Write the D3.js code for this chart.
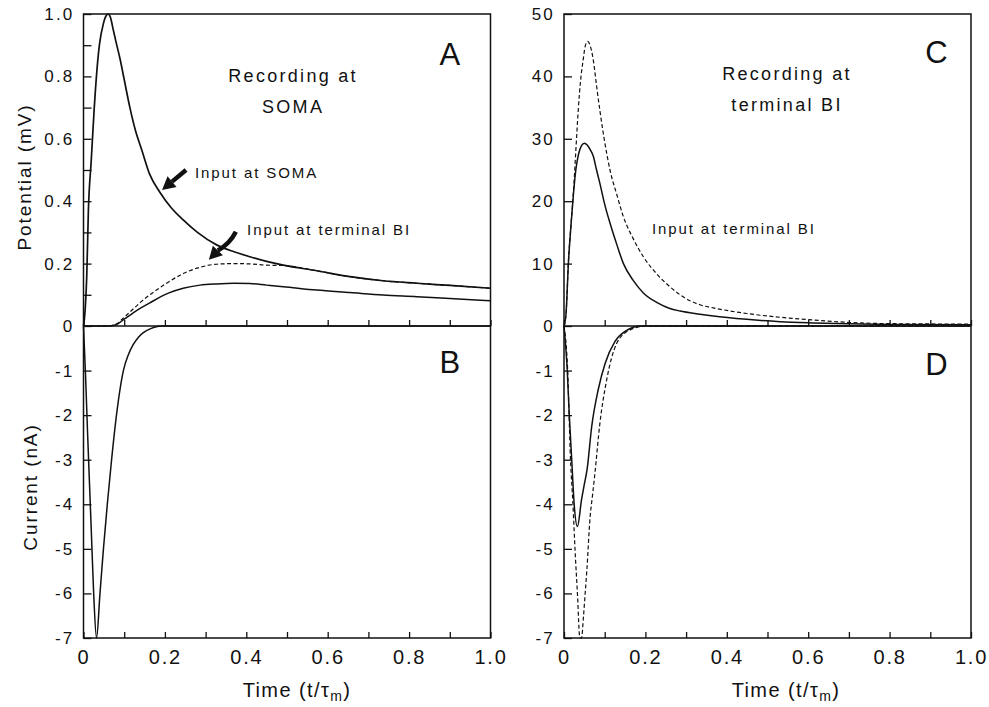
<!DOCTYPE html>
<html><head><meta charset="utf-8">
<script src="https://cdn.jsdelivr.net/npm/d3@7"></script>
<style>
body{margin:0;background:#fff}
text{font-family:"Liberation Sans",Arial,Helvetica,sans-serif;fill:#111}
</style>
</head><body><svg id="c" width="989" height="707"></svg>
<script>
// ---------- DATA ----------
const timeTicks = [0, 0.2, 0.4, 0.6, 0.8, 1.0];
const timeTickLabels = ["0", "0.2", "0.4", "0.6", "0.8", "1.0"];
const timeMinorTicks = [0.1, 0.3, 0.5, 0.7, 0.9];
const potTicksA = [0, 0.2, 0.4, 0.6, 0.8, 1.0];
const potTickLabelsA = ["0", "0.2", "0.4", "0.6", "0.8", "1.0"];
const potMinorTicksA = [0.1, 0.3, 0.5, 0.7, 0.9];
const potTicksC = [0, 10, 20, 30, 40, 50];
const potTickLabelsC = ["0", "10", "20", "30", "40", "50"];
const curTicks = [-1, -2, -3, -4, -5, -6, -7];
const curTickLabels = ["-1", "-2", "-3", "-4", "-5", "-6", "-7"];

// Panel A: recording at soma
const somaRec_somaInput = [[0,0],[0.004,0.05],[0.008,0.16],[0.012,0.37],[0.019,0.53],[0.026,0.69],[0.033,0.82],[0.039,0.9],[0.049,0.97],[0.056,0.995],[0.061,1.0],[0.066,0.99],[0.073,0.95],[0.08,0.91],[0.09,0.855],[0.1,0.79],[0.114,0.70],[0.128,0.625],[0.143,0.565],[0.163,0.485],[0.188,0.428],[0.215,0.38],[0.245,0.34],[0.28,0.3],[0.327,0.26],[0.37,0.238],[0.409,0.222],[0.45,0.207],[0.491,0.195],[0.573,0.177],[0.655,0.158],[0.736,0.145],[0.819,0.137],[0.9,0.13],[1.0,0.121]];
const somaRec_termInputDashed = [[0,0],[0.06,0],[0.08,0.006],[0.1,0.028],[0.12,0.052],[0.14,0.076],[0.163,0.1],[0.19,0.125],[0.21,0.142],[0.245,0.168],[0.286,0.188],[0.327,0.198],[0.37,0.2],[0.409,0.199],[0.45,0.195],[0.491,0.194],[0.573,0.177],[0.655,0.158],[0.736,0.145],[0.819,0.137],[0.9,0.13],[1.0,0.121]];
const somaRec_termInputSolid = [[0,0],[0.06,0],[0.08,0.004],[0.1,0.022],[0.12,0.04],[0.14,0.057],[0.163,0.074],[0.19,0.094],[0.21,0.106],[0.245,0.121],[0.286,0.131],[0.327,0.135],[0.37,0.137],[0.409,0.136],[0.45,0.131],[0.491,0.126],[0.573,0.115],[0.655,0.107],[0.736,0.099],[0.819,0.094],[0.9,0.088],[1.0,0.081]];

// Panel B: current, input at soma
const somaCurrent = [[0,0],[0.005,-1.1],[0.01,-2.4],[0.015,-3.6],[0.02,-4.8],[0.025,-6],[0.032,-7],[0.0405,-6],[0.049,-5],[0.0585,-4],[0.069,-3],[0.081,-2],[0.098,-1],[0.11,-0.65],[0.122,-0.42],[0.135,-0.25],[0.147,-0.15],[0.165,-0.06],[0.19,0],[1.0,0]];

// Panel C: recording at terminal BI
const termRec_dashed = [[0,0],[0.005,2],[0.011,10.5],[0.017,16],[0.023,21.3],[0.029,28],[0.035,34.6],[0.041,39.5],[0.047,42.6],[0.052,44.8],[0.058,45.6],[0.064,45],[0.072,42.6],[0.08,38.5],[0.088,34.6],[0.1,29.5],[0.113,25],[0.13,21],[0.146,17.5],[0.17,14],[0.195,11.1],[0.23,8.2],[0.26,6.3],[0.285,5.0],[0.334,3.4],[0.367,2.9],[0.449,2.0],[0.531,1.4],[0.612,0.96],[0.694,0.6],[0.776,0.4],[0.85,0.35],[1.0,0.3]];
const termRec_solid = [[0,0],[0.005,2],[0.011,10.3],[0.017,16],[0.023,21],[0.029,25],[0.036,27.6],[0.043,28.9],[0.05,29.3],[0.057,29],[0.065,28.2],[0.072,27.2],[0.08,25],[0.088,22.9],[0.1,19.5],[0.113,16.5],[0.13,13],[0.146,10],[0.17,7.3],[0.195,5.3],[0.23,3.7],[0.26,2.8],[0.285,2.4],[0.334,1.9],[0.367,1.6],[0.449,1.07],[0.531,0.7],[0.612,0.5],[0.7,0.35],[0.8,0.25],[1.0,0.2]];

// Panel D: current
const termCurrent_solid = [[0,0],[0.008,-1],[0.013,-2],[0.019,-3],[0.025,-4],[0.033,-4.5],[0.043,-3.9],[0.05,-3.55],[0.057,-3.2],[0.068,-2.26],[0.084,-1.43],[0.101,-0.84],[0.125,-0.35],[0.15,-0.12],[0.19,0],[1.0,0]];
const termCurrent_dashed = [[0,0],[0.009,-1],[0.016,-3],[0.022,-4],[0.027,-5],[0.033,-6],[0.039,-7],[0.043,-7],[0.048,-6.5],[0.052,-6],[0.056,-5.5],[0.064,-4.3],[0.07,-3.8],[0.076,-3.3],[0.088,-2.2],[0.105,-1.2],[0.129,-0.4],[0.16,-0.1],[0.2,0],[1.0,0]];

// ---------- DRAW ----------
const svg = d3.select("#c");
const Y_TOP = 14, Y_ZERO = 326, Y_BOT = 638;
const cols = [{x0: 83.5, x1: 490.5}, {x0: 564, x1: 971}];
const FONT = '"Liberation Sans",Arial,sans-serif';

const xScales = cols.map(c => d3.scaleLinear().domain([0, 1]).range([c.x0, c.x1]));
const yA = d3.scaleLinear().domain([0, 1]).range([Y_ZERO, Y_TOP]);
const yC = d3.scaleLinear().domain([0, 50]).range([Y_ZERO, Y_TOP]);
const yCur = d3.scaleLinear().domain([-7, 0]).range([Y_BOT, Y_ZERO]);

function drawLine(x, y, data, dashed, w) {
  svg.append("path").datum(data)
    .attr("fill", "none").attr("stroke", "#111")
    .attr("stroke-width", w || (dashed ? 1.2 : 1.5))
    .attr("stroke-dasharray", dashed ? "4,2.5" : null)
    .attr("stroke-linejoin", "round")
    .attr("d", d3.line().x(d => x(d[0])).y(d => y(d[1])).curve(d3.curveMonotoneX));
}

function yAxis(x, y, ticks, labels, minor) {
  const g = svg.append("g").attr("transform", `translate(${x.range()[0]},0)`);
  const ax = d3.axisLeft(y).tickValues(ticks).tickSize(-8).tickPadding(9)
    .tickFormat((d, i) => labels[i]);
  g.call(ax);
  g.select(".domain").remove();
  g.selectAll("line").attr("stroke", "#111").attr("stroke-width", 1.3);
  g.selectAll("text").attr("font-size", 17).attr("letter-spacing", "2.2px").attr("fill", "#111")
    .attr("font-family", FONT);
  if (minor) {
    const gm = svg.append("g").attr("transform", `translate(${x.range()[0]},0)`);
    gm.call(d3.axisLeft(y).tickValues(minor).tickSize(-8).tickFormat(""));
    gm.select(".domain").remove();
    gm.selectAll("line").attr("stroke", "#111").attr("stroke-width", 1.3);
  }
}

function xAxisAt(x, yPos, withLabels) {
  const all = timeTicks.concat(timeMinorTicks).sort((a, b) => a - b);
  const g = svg.append("g").attr("transform", `translate(0,${yPos})`);
  g.call(d3.axisBottom(x).tickValues(all).tickSize(-6).tickPadding(12)
    .tickFormat(d => {
      if (!withLabels) return "";
      const i = timeTicks.findIndex(t => Math.abs(t - d) < 1e-9);
      return i >= 0 ? timeTickLabels[i] : "";
    }));
  g.select(".domain").remove();
  g.selectAll("line").attr("stroke", "#111").attr("stroke-width", 1.3);
  g.selectAll("text").attr("font-size", 20).attr("letter-spacing", "1.8px").attr("fill", "#111")
    .attr("font-family", FONT).attr("dy", "0.71em");
}

cols.forEach((c, i) => {
  const x = xScales[i];
  svg.append("rect").attr("x", c.x0).attr("y", Y_TOP).attr("width", c.x1 - c.x0).attr("height", Y_BOT - Y_TOP)
    .attr("fill", "none").attr("stroke", "#111").attr("stroke-width", 1.5);
  svg.append("line").attr("x1", c.x0).attr("x2", c.x1).attr("y1", Y_ZERO).attr("y2", Y_ZERO)
    .attr("stroke", "#111").attr("stroke-width", 1.6);
  xAxisAt(x, Y_ZERO, false);
  xAxisAt(x, Y_BOT, true);
  const t = svg.append("text").attr("x", i === 0 ? 297 : 786).attr("y", 697)
    .attr("text-anchor", "middle").attr("font-size", 20).attr("letter-spacing", "1.4px");
  t.append("tspan").text("Time (t/τ");
  t.append("tspan").attr("font-size", 14).attr("dy", 4).text("m");
  t.append("tspan").attr("dy", -4).text(")");
});

yAxis(xScales[0], yA, potTicksA, potTickLabelsA, potMinorTicksA);
yAxis(xScales[0], yCur, curTicks, curTickLabels, null);
yAxis(xScales[1], yC, potTicksC, potTickLabelsC, null);
yAxis(xScales[1], yCur, curTicks, curTickLabels, null);

svg.append("text").attr("transform", "translate(31,177) rotate(-90)").attr("text-anchor", "middle")
  .attr("font-size", 19).attr("letter-spacing", "1.9px").text("Potential (mV)");
svg.append("text").attr("transform", "translate(37,487) rotate(-90)").attr("text-anchor", "middle")
  .attr("font-size", 19).attr("letter-spacing", "1.9px").text("Current (nA)");

const xL = xScales[0], xR = xScales[1];
drawLine(xL, yA, somaRec_somaInput, false, 1.7);
drawLine(xL, yA, somaRec_termInputDashed, true);
drawLine(xL, yA, somaRec_termInputSolid, false);
drawLine(xL, yCur, somaCurrent, false);
drawLine(xR, yC, termRec_dashed, true);
drawLine(xR, yC, termRec_solid, false);
drawLine(xR, yCur, termCurrent_dashed, true);
drawLine(xR, yCur, termCurrent_solid, false);

[["A", xL, 0.90, 65], ["B", xL, 0.90, 373], ["C", xR, 0.915, 63], ["D", xR, 0.915, 375]].forEach(([s, x, tt, yy]) => {
  svg.append("text").attr("x", x(tt)).attr("y", yy).attr("text-anchor", "middle")
    .attr("font-size", 31).text(s);
});

function label(x, y, t, v, s, size, anchor, ls) {
  svg.append("text").attr("x", x(t)).attr("y", y(v)).attr("text-anchor", anchor)
    .attr("font-size", size).attr("letter-spacing", ls).text(s);
}
label(xL, yA, 0.515, 0.783, "Recording at", 18, "middle", "2.3px");
label(xL, yA, 0.515, 0.682, "SOMA", 18, "middle", "2.3px");
label(xL, yA, 0.274, 0.474, "Input at SOMA", 15, "start", "1.9px");
label(xL, yA, 0.402, 0.292, "Input at terminal BI", 15, "start", "1.9px");
label(xR, yC, 0.548, 39.5, "Recording at", 18, "middle", "2.3px");
label(xR, yC, 0.548, 34.5, "terminal BI", 18, "middle", "2.3px");
label(xR, yC, 0.216, 14.7, "Input at terminal BI", 15, "start", "1.9px");

function arrow(x, y, t, v, dx, dy, bend) {
  const tx = x(t), ty = y(v);
  const sx = tx + dx, sy = ty + dy;
  const len = Math.hypot(dx, dy);
  const ux = -dx / len, uy = -dy / len;
  const headL = 13, headW = 7;
  const bx = tx - ux * headL, by = ty - uy * headL;
  const px = -uy, py = ux;
  const mx = (sx + bx) / 2 + px * bend, my = (sy + by) / 2 + py * bend;
  svg.append("path").attr("d", `M${sx},${sy} Q${mx},${my} ${bx},${by}`)
    .attr("fill", "none").attr("stroke", "#111").attr("stroke-width", 4.5).attr("stroke-linecap", "butt");
  svg.append("path").attr("d", `M${tx},${ty} L${bx + px * headW},${by + py * headW} L${bx - px * headW},${by - py * headW} Z`)
    .attr("fill", "#111");
}
arrow(xL, yA, 0.193, 0.436, 24, -20, 0);
arrow(xL, yA, 0.308, 0.212, 27, -28, -4);
</script></body></html>
